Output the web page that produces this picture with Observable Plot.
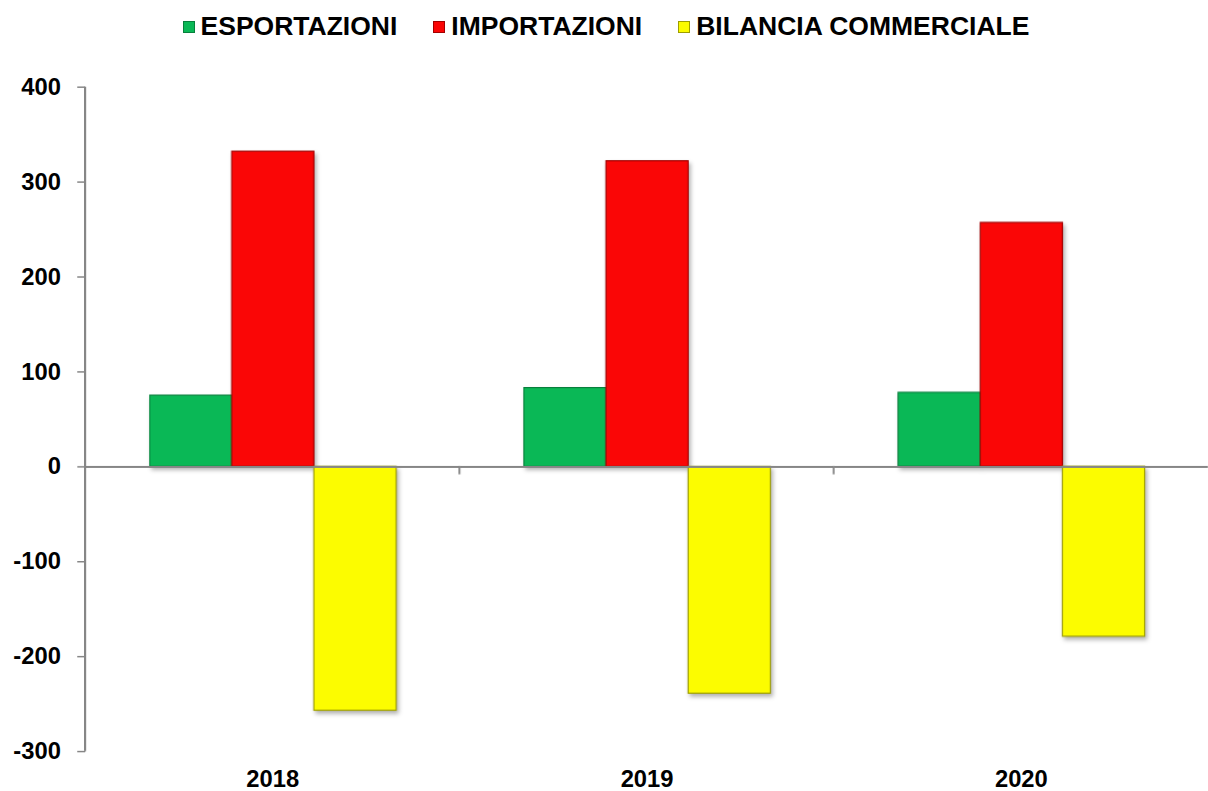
<!DOCTYPE html>
<html>
<head>
<meta charset="utf-8">
<script src="https://cdn.jsdelivr.net/npm/d3@7"></script>
<script src="https://cdn.jsdelivr.net/npm/@observablehq/plot@0.6"></script>
<style>
  html, body { margin: 0; padding: 0; background: #fff; overflow: hidden; width: 1208px; height: 791px; }
  body { font-family: "Liberation Sans", Arial, sans-serif; }
  #legend { height: 55px; display: flex; justify-content: center; align-items: center; gap: 36px; font-weight: bold; font-size: 26.5px; color: #000; box-sizing: border-box; padding-left: 4px; padding-bottom: 2px; }
  #legend .item { display: flex; align-items: center; }
  #legend .sw { width: 12px; height: 12px; margin-right: 6px; box-sizing: border-box; }
  #chart svg { display: block; overflow: visible; }
</style>
</head>
<body>
<div id="legend"></div>
<div id="chart"></div>
<script>
const years = ["2018", "2019", "2020"];
const series = ["ESPORTAZIONI", "IMPORTAZIONI", "BILANCIA COMMERCIALE"];
const esportazioni = [75, 83, 78];
const importazioni = [332, 322, 257];
const bilancia = [-257, -239, -179];
const yTicks = [-300, -200, -100, 0, 100, 200, 300, 400];
const colors = ["#0ab856", "#fa0606", "#fcfc00"];
const strokes = ["#07803c", "#a30000", "#9e9e00"];

const values = [esportazioni, importazioni, bilancia];
const data = [];
years.forEach((yr, i) => series.forEach((s, j) => data.push({year: yr, series: s, value: values[j][i]})));

// Legend
const legend = document.getElementById("legend");
series.forEach((s, j) => {
  const it = document.createElement("div");
  it.className = "item";
  const sw = document.createElement("div");
  sw.className = "sw";
  sw.style.background = colors[j];
  sw.style.border = `1px solid ${strokes[j]}`;
  const t = document.createElement("span");
  t.textContent = s;
  it.appendChild(sw); it.appendChild(t);
  legend.appendChild(it);
});

const plot = Plot.plot({
  width: 1220,
  height: 736,
  marginLeft: 86,
  marginRight: 0,
  marginTop: 32,
  marginBottom: 33,
  style: {fontFamily: '"Liberation Sans", Arial, sans-serif', fontSize: "24px", fontWeight: "bold", color: "#000", background: "transparent"},
  fx: {domain: years, padding: 0, label: null, axis: null},
  x: {domain: series, paddingInner: 0, paddingOuter: 0.76, axis: null},
  y: {domain: [-300, 400], nice: false, label: null},
  color: {domain: series, range: colors},
  marks: [
    Plot.barY(data, {fx: "year", x: "series", y: "value", fill: "series", stroke: (d) => strokes[series.indexOf(d.series)], strokeWidth: 1.2, insetLeft: 0, insetRight: 0}),
    Plot.ruleY([0], {stroke: "#868686", strokeWidth: 2}),
    Plot.axisY({ticks: yTicks, tickSize: 8, tickPadding: 17, tickFormat: (d) => String(d), stroke: "#868686", fill: "#000", label: null, strokeWidth: 1.5}),
    Plot.axisFx({anchor: "bottom", tickSize: 0, tickPadding: 19, label: null, fill: "#000"})
  ]
});

document.getElementById("chart").appendChild(plot);

// bar shadow
d3.select(plot).selectAll('g[aria-label="bar"]').style("filter", "drop-shadow(2px 3px 2px rgba(0,0,0,0.3))");

// axis line and category separator ticks from the library scales
const ys = plot.scale("y");
const fxs = plot.scale("fx");
const svg = d3.select(plot);
const x0 = fxs.apply(years[0]);
svg.append("line")
  .attr("x1", x0).attr("x2", x0)
  .attr("y1", ys.apply(400)).attr("y2", ys.apply(-300))
  .attr("stroke", "#868686").attr("stroke-width", 2);
years.slice(1).forEach((yr) => {
  const xv = fxs.apply(yr);
  svg.append("line")
    .attr("x1", xv).attr("x2", xv)
    .attr("y1", ys.apply(0)).attr("y2", ys.apply(0) + 8)
    .attr("stroke", "#868686").attr("stroke-width", 2);
});
</script>
</body>
</html>
